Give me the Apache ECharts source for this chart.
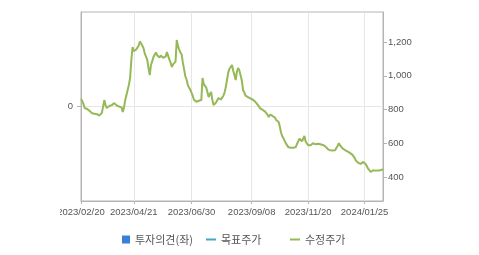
<!DOCTYPE html>
<html><head><meta charset="utf-8">
<script src="https://cdn.jsdelivr.net/npm/echarts@6/dist/echarts.min.js"></script>
<style>html,body{margin:0;padding:0;background:#fff;width:479px;height:255px;overflow:hidden}
#wrap{position:absolute;left:60px;top:0;width:419px;height:255px;overflow:hidden}
#c{width:419px;height:255px}</style></head>
<body><div id="wrap"><div id="c"></div></div>
<script>
// tick positions (trading-day index) and labels on the x axis
const tickIdx = [0, 43, 90, 139, 185, 231];
const tickLabels = ['2023/02/20', '2023/04/21', '2023/06/30', '2023/09/08', '2023/11/20', '2024/01/25'];
// right axis labels
const priceTicks = [400, 600, 800, 1000, 1200];
// adjusted price (수정주가), one value per trading day
const price = [
 862,850,833,809,815,803,797,792,782,778,767,775,779,772,770,765,774,780,785,
 856,826,809,818,821,814,826,819,838,830,825,829,818,820,813,785,812,
 856,884,916,946,987,1093,1170,1145,1135,1156,1164,1180,1203,1212,
 1178,1162,1130,1114,1093,1046,1004,1064,1085,1112,1120,1138,1122,1117,
 1108,1120,1109,1106,1113,1115,1141,1118,1096,1078,1052,1068,1072,1084,
 1212,1176,1155,1138,1126,1076,1038,996,978,946,930,918,916,882,858,848,846,844,852,851,856,
 987,951,944,930,903,874,892,904,856,827,838,842,853,868,860,860,852,882,902,936,978,1022,
 1042,1052,1064,1030,1004,975,1024,1046,1032,1024,972,916,902,882,882,874,
 876,866,864,858,857,846,840,828,822,807,806,798,798,788,781,768,756,770,764,762,752,752,738,734,
 726,698,661,642,628,621,598,587,576,578,574,582,573,574,578,597,605,627,
 637,611,627,643,611,602,588,590,588,597,600,600,594,596,597,598,594,593,590,589,582,576,
 566,563,558,561,557,563,559,572,584,601,588,580,570,568,560,559,552,551,543,543,533,524,
 512,496,490,483,485,478,485,490,496,476,466,448,440,430,437,440,442,438,444,439,443,440,446,447
];
const categories = price.map((_, i) => String(i));
const opinionAxis = ['', '0', ''];
const names = ['투자의견(좌)', '목표주가', '수정주가'];

const chart = echarts.init(document.getElementById('c'), null, {renderer: 'canvas'});
const labelMap = {};
tickIdx.forEach((k, j) => labelMap[k] = tickLabels[j]);
const isTick = (i) => labelMap[i] !== undefined;
const txt = {color: '#555', fontSize: 9.5, fontFamily: 'Liberation Sans, Arial, sans-serif'};
const legendBase = {
  orient: 'horizontal', top: 229, itemGap: 0,
  textStyle: {color: '#555', fontSize: 11, fontFamily: 'Noto Sans CJK KR, sans-serif'},
  selectedMode: false
};
chart.setOption({
  animation: false,
  grid: {left: 21, right: 96, top: 12, bottom: 54, show: true, borderColor: '#b4b4b4', borderWidth: 1,
         containLabel: false, outerBoundsMode: 'none'},
  legend: [
    Object.assign({}, legendBase, {left: 57, data: [{name: names[0], icon: 'rect'}], itemWidth: 8, itemHeight: 8}),
    Object.assign({}, legendBase, {left: 141, data: [{name: names[1], icon: 'rect'}], itemWidth: 10, itemHeight: 2}),
    Object.assign({}, legendBase, {left: 225, data: [{name: names[2], icon: 'rect'}], itemWidth: 10, itemHeight: 2})
  ],
  xAxis: {
    type: 'category', data: categories, boundaryGap: false,
    axisLine: {lineStyle: {color: '#b4b4b4'}},
    axisTick: {show: true, length: 3, interval: (i) => isTick(i), lineStyle: {color: '#b4b4b4'}},
    axisLabel: Object.assign({interval: (i) => isTick(i), formatter: (v, i) => labelMap[i] || '', margin: 6}, txt),
    splitLine: {show: true, interval: (i) => isTick(i) && i !== 0, lineStyle: {color: '#e6e6e6'}}
  },
  yAxis: [
    {
      type: 'category', data: opinionAxis, boundaryGap: false, position: 'left',
      axisLine: {show: true, lineStyle: {color: '#b4b4b4'}},
      axisTick: {show: true, length: 4, interval: (i) => i === 1, lineStyle: {color: '#b4b4b4'}},
      axisLabel: Object.assign({interval: (i) => i === 1, margin: 8}, txt),
      splitLine: {show: true, interval: (i) => i === 1, lineStyle: {color: '#e6e6e6'}}
    },
    {
      type: 'value', min: 258, max: 1378, position: 'right',
      axisLine: {show: true, lineStyle: {color: '#b4b4b4'}},
      axisTick: {show: true, length: 4, customValues: priceTicks, lineStyle: {color: '#b4b4b4'}},
      axisLabel: Object.assign({customValues: priceTicks, margin: 5,
        formatter: (v) => v.toLocaleString('en-US')}, txt),
      splitLine: {show: false}
    }
  ],
  series: [
    {name: names[0], type: 'line', yAxisIndex: 1, data: [], color: '#3b7fd8'},
    {name: names[1], type: 'line', yAxisIndex: 1, data: [], color: '#3fa9c4'},
    {name: names[2], type: 'line', yAxisIndex: 1, data: price, color: '#96b857',
     showSymbol: false, symbol: 'none', lineStyle: {width: 2, color: '#96b857'}}
  ]
});
</script></body></html>
